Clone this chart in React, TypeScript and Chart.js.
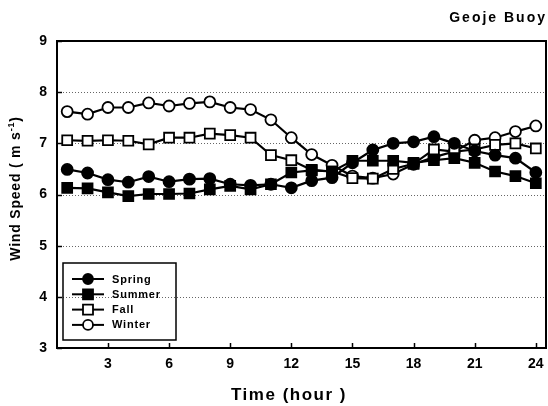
import React, { useEffect, useRef } from "react";
import { Chart, registerables } from "chart.js";

Chart.register(...registerables);

// Hourly mean wind speed (m/s) at Geoje buoy, by season
const hours = [1, 2, 3, 4, 5, 6, 7, 8, 9, 10, 11, 12, 13, 14, 15, 16, 17, 18, 19, 20, 21, 22, 23, 24];
const spring = [6.49, 6.42, 6.29, 6.24, 6.35, 6.25, 6.30, 6.31, 6.20, 6.18, 6.20, 6.13, 6.27, 6.33, 6.62, 6.87, 7.00, 7.03, 7.13, 7.00, 6.85, 6.77, 6.71, 6.43];
const summer = [6.13, 6.12, 6.04, 5.97, 6.01, 6.01, 6.02, 6.10, 6.17, 6.10, 6.20, 6.43, 6.47, 6.45, 6.66, 6.66, 6.66, 6.62, 6.67, 6.71, 6.62, 6.45, 6.36, 6.22];
const fall = [7.06, 7.05, 7.06, 7.05, 6.98, 7.11, 7.11, 7.19, 7.16, 7.11, 6.77, 6.67, 6.48, 6.45, 6.32, 6.31, 6.50, 6.60, 6.88, 6.84, 6.88, 6.97, 7.00, 6.90];
const winter = [7.62, 7.57, 7.70, 7.70, 7.79, 7.73, 7.78, 7.81, 7.70, 7.66, 7.46, 7.11, 6.78, 6.57, 6.36, 6.32, 6.40, 6.59, 6.73, 6.84, 7.06, 7.11, 7.23, 7.34];

const seriesNames = ["Spring", "Summer", "Fall", "Winter"];
const xTicks = [3, 6, 9, 12, 15, 18, 21, 24];
const yTicks = [3, 4, 5, 6, 7, 8, 9];
const gridValues = [4, 5, 6, 7, 8];

const chartTitle = "Geoje Buoy";
const xTitle = "Time (hour )";

const FONT = "'Liberation Sans', Arial, Helvetica, sans-serif";

function drawMarker(ctx: CanvasRenderingContext2D, style: string, x: number, y: number, fill: string) {
  ctx.beginPath();
  if (style === "rect") {
    ctx.rect(x - 5, y - 5, 10, 10);
  } else {
    ctx.arc(x, y, 5, 0, Math.PI * 2);
  }
  ctx.fillStyle = fill;
  ctx.fill();
  ctx.lineWidth = 1.8;
  ctx.strokeStyle = "#000";
  ctx.stroke();
}

const decor = {
  id: "decor",
  beforeDraw(chart: any) {
    const { ctx, width, height } = chart;
    ctx.save();
    ctx.fillStyle = "#fff";
    ctx.fillRect(0, 0, width, height);
    ctx.restore();
  },
  beforeDatasetsDraw(chart: any) {
    const { ctx, chartArea: a, scales } = chart;
    ctx.save();
    ctx.strokeStyle = "#666";
    ctx.lineWidth = 1;
    ctx.setLineDash([1, 2]);
    for (const v of gridValues) {
      const py = Math.round(scales.y.getPixelForValue(v)) + 0.5;
      ctx.beginPath();
      ctx.moveTo(a.left, py);
      ctx.lineTo(a.right, py);
      ctx.stroke();
    }
    ctx.restore();
  },
  afterDraw(chart: any) {
    const { ctx, chartArea: a, scales } = chart;
    ctx.save();
    // plot frame
    ctx.strokeStyle = "#000";
    ctx.lineWidth = 2;
    ctx.strokeRect(a.left, a.top, a.right - a.left, a.bottom - a.top);

    // inward tick marks
    ctx.lineWidth = 1.5;
    for (const v of xTicks) {
      const px = Math.round(scales.x.getPixelForValue(v)) + 0.5;
      ctx.beginPath();
      ctx.moveTo(px, a.bottom);
      ctx.lineTo(px, a.bottom - 5);
      ctx.stroke();
    }
    for (const v of yTicks) {
      const py = Math.round(scales.y.getPixelForValue(v)) + 0.5;
      ctx.beginPath();
      ctx.moveTo(a.left, py);
      ctx.lineTo(a.left + 5, py);
      ctx.stroke();
    }

    // legend
    const bx = a.left + 6;
    const by = a.bottom - 85;
    ctx.lineWidth = 1.5;
    ctx.strokeRect(bx, by, 113, 77);
    chart.data.datasets.forEach((ds: any, i: number) => {
      const ry = by + 16 + i * 15.3;
      ctx.lineWidth = 2;
      ctx.strokeStyle = "#000";
      ctx.beginPath();
      ctx.moveTo(bx + 9, ry);
      ctx.lineTo(bx + 41, ry);
      ctx.stroke();
      drawMarker(ctx, ds.pointStyle, bx + 25, ry, ds.pointBackgroundColor);
      ctx.fillStyle = "#000";
      ctx.font = `bold 11px ${FONT}`;
      (ctx as any).letterSpacing = "0.8px";
      ctx.textAlign = "left";
      ctx.textBaseline = "middle";
      ctx.fillText(ds.label, bx + 49, ry + 0.5);
    });

    // chart title
    ctx.font = `bold 14px ${FONT}`;
    (ctx as any).letterSpacing = "2px";
    ctx.textAlign = "right";
    ctx.textBaseline = "alphabetic";
    ctx.fillText(chartTitle, a.right + 1, 22);

    // x axis title
    ctx.font = `bold 17px ${FONT}`;
    (ctx as any).letterSpacing = "1.5px";
    ctx.textAlign = "center";
    ctx.fillText(xTitle, 289, 400);

    // y axis title with superscript unit
    ctx.translate(20, (a.top + a.bottom) / 2 - 6);
    ctx.rotate(-Math.PI / 2);
    ctx.font = `bold 14px ${FONT}`;
    (ctx as any).letterSpacing = "0.8px";
    const main = "Wind Speed ( m s";
    const sup = "-1";
    const close = ")";
    const wMain = ctx.measureText(main).width;
    ctx.font = `bold 9px ${FONT}`;
    const wSup = ctx.measureText(sup).width;
    ctx.font = `bold 14px ${FONT}`;
    const wClose = ctx.measureText(close).width;
    const total = wMain + wSup + wClose;
    let x0 = -total / 2;
    ctx.textAlign = "left";
    ctx.fillText(main, x0, 0);
    x0 += wMain;
    ctx.font = `bold 9px ${FONT}`;
    ctx.fillText(sup, x0, -6);
    x0 += wSup;
    ctx.font = `bold 14px ${FONT}`;
    ctx.fillText(close, x0, 0);
    ctx.restore();
  },
};

export default function App() {
  const ref = useRef<HTMLCanvasElement | null>(null);

  useEffect(() => {
    if (!ref.current) return;
    const series = [spring, summer, fall, winter];
    const styles = [
      { pointStyle: "circle", fill: "#000", radius: 5.5 },
      { pointStyle: "rect", fill: "#000", radius: 7 },
      { pointStyle: "rect", fill: "#fff", radius: 7 },
      { pointStyle: "circle", fill: "#fff", radius: 5.5 },
    ];
    const chart = new Chart(ref.current, {
      type: "line",
      data: {
        datasets: series.map((vals, i) => ({
          label: seriesNames[i],
          data: hours.map((h, j) => ({ x: h, y: vals[j] })),
          borderColor: "#000",
          borderWidth: 2.2,
          pointStyle: styles[i].pointStyle,
          pointRadius: styles[i].radius,
          pointBackgroundColor: styles[i].fill,
          pointBorderColor: "#000",
          pointBorderWidth: 1.8,
          tension: 0,
          fill: false,
        })),
      },
      options: {
        animation: false,
        responsive: false,
        maintainAspectRatio: false,
        layout: { autoPadding: false, padding: { top: 41, right: 2, left: 0, bottom: 0 } },
        plugins: {
          legend: { display: false },
          title: { display: false },
          tooltip: { enabled: false },
        },
        scales: {
          x: {
            type: "linear",
            min: 0.5,
            max: 24.5,
            grid: { display: false, drawTicks: false },
            border: { display: false },
            afterBuildTicks: (s: any) => {
              s.ticks = xTicks.map((v) => ({ value: v }));
            },
            afterFit: (s: any) => {
              s.height = 58;
              s.paddingLeft = 0;
              s.paddingRight = 0;
            },
            ticks: {
              color: "#000",
              padding: 8,
              maxRotation: 0,
              font: { family: FONT, size: 14, weight: "bold" },
            },
          },
          y: {
            type: "linear",
            min: 3,
            max: 9,
            grid: { display: false, drawTicks: false },
            border: { display: false },
            afterBuildTicks: (s: any) => {
              s.ticks = yTicks.map((v) => ({ value: v }));
            },
            afterFit: (s: any) => {
              s.width = 57;
              s.paddingTop = 0;
              s.paddingBottom = 0;
            },
            ticks: {
              color: "#000",
              padding: 10,
              font: { family: FONT, size: 14, weight: "bold" },
            },
          },
        },
      },
      plugins: [decor],
    } as any);
    return () => chart.destroy();
  }, []);

  return (
    <div style={{ position: "fixed", left: 0, top: 0, width: 548, height: 406, background: "#fff" }}>
      <canvas ref={ref} width={548} height={406} style={{ display: "block", width: 548, height: 406 }} />
    </div>
  );
}
